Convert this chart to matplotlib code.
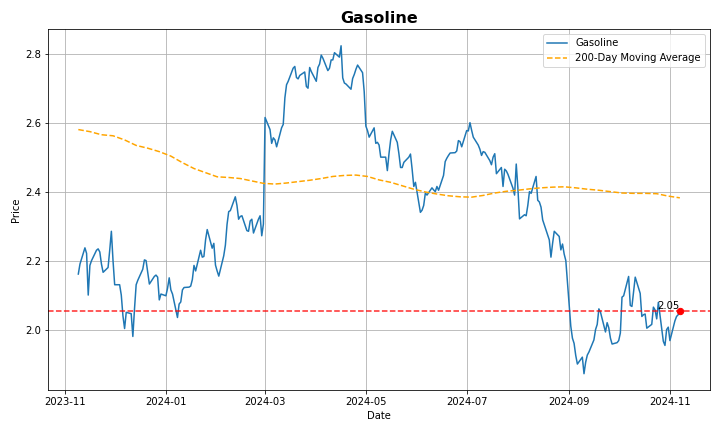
import numpy as np
import pandas as pd
import matplotlib
matplotlib.use("Agg")
import matplotlib.pyplot as plt

# daily gasoline settle prices (business days), one list per month
nov23 = [2.161, 2.19, 2.237, 2.221, 2.10, 2.186, 2.20, 2.23, 2.234, 2.225, 2.19, 2.166,
         2.18, 2.23, 2.285, 2.20]
dec23 = [2.13, 2.13, 2.10, 2.04, 2.003, 2.05, 2.046, 1.98, 2.06, 2.13, 2.143,
         2.175, 2.202, 2.20, 2.165, 2.132, 2.154, 2.158, 2.152, 2.086, 2.103]
jan24 = [2.098, 2.12, 2.15, 2.115, 2.103, 2.035, 2.074, 2.08, 2.115, 2.122,
         2.123, 2.126, 2.145, 2.186, 2.17, 2.23, 2.21, 2.212, 2.26, 2.29, 2.236, 2.25, 2.187]
feb24 = [2.17, 2.155, 2.214, 2.245, 2.305, 2.342, 2.345, 2.385, 2.36, 2.32, 2.328, 2.33,
         2.287, 2.285, 2.315, 2.32, 2.28, 2.32, 2.33, 2.272, 2.306]
mar24 = [2.615, 2.58, 2.54, 2.556, 2.55, 2.53, 2.585, 2.595, 2.672, 2.71, 2.72,
         2.758, 2.763, 2.731, 2.727, 2.737, 2.747, 2.705, 2.70, 2.76, 2.748]
apr24 = [2.72, 2.76, 2.77, 2.796, 2.787, 2.751, 2.758, 2.782, 2.782, 2.803,
         2.79, 2.823, 2.73, 2.715, 2.712, 2.697, 2.728, 2.74, 2.755, 2.767, 2.745, 2.69]
may24 = [2.59, 2.577, 2.558, 2.585, 2.54, 2.543, 2.535, 2.50, 2.50, 2.461, 2.51, 2.55, 2.575,
         2.543, 2.51, 2.47, 2.47, 2.485, 2.50, 2.509, 2.465, 2.415, 2.427]
jun24 = [2.34, 2.346, 2.36, 2.396, 2.39, 2.411, 2.405, 2.40, 2.415, 2.404,
         2.447, 2.487, 2.497, 2.505, 2.512, 2.513, 2.518, 2.548, 2.545, 2.53]
jul24 = [2.577, 2.576, 2.60, 2.578, 2.558, 2.535, 2.523, 2.505, 2.516, 2.514,
         2.49, 2.478, 2.50, 2.51, 2.452, 2.47, 2.415, 2.465, 2.46, 2.45, 2.41, 2.39, 2.48]
aug24 = [2.41, 2.321, 2.333, 2.33, 2.36, 2.40, 2.395, 2.444, 2.375, 2.37, 2.355, 2.318,
         2.275, 2.26, 2.21, 2.25, 2.285, 2.27, 2.231, 2.248, 2.219, 2.20]
sep24 = [2.01, 1.975, 1.96, 1.925, 1.90, 1.92, 1.872, 1.905, 1.926, 1.935,
         1.97, 2.0, 2.015, 2.06, 2.05, 1.993, 2.02, 2.005, 1.975, 1.958, 1.962]
oct24 = [1.968, 1.99, 2.094, 2.098, 2.154, 2.07, 2.067, 2.11, 2.152,
         2.105, 2.038, 2.043, 2.045, 2.004, 2.015, 2.065, 2.057, 2.031, 2.079,
         1.966, 1.954, 2.0, 2.007]
nov24 = [1.968, 2.025, 2.038, 2.043, 2.0548]

# 200-day moving average, sampled weekly (Thursdays)
ma_values = [2.58, 2.574, 2.565, 2.562, 2.55, 2.534, 2.526, 2.516, 2.503, 2.484,
             2.467, 2.455, 2.443, 2.441, 2.438, 2.431, 2.424, 2.422, 2.425, 2.429,
             2.433, 2.438, 2.444, 2.447, 2.448, 2.444, 2.434, 2.427, 2.417, 2.407,
             2.399, 2.393, 2.388, 2.385, 2.384, 2.389, 2.396, 2.401, 2.404, 2.408,
             2.411, 2.413, 2.414, 2.411, 2.407, 2.404, 2.40, 2.396, 2.395, 2.395,
             2.394, 2.387, 2.382]

prices = nov23 + dec23 + jan24 + feb24 + mar24 + apr24 + may24 + jun24 + jul24 + aug24 + sep24 + oct24 + nov24
dates = pd.bdate_range("2023-11-09", "2024-11-07")
ma_dates = pd.date_range("2023-11-09", "2024-11-07", freq="7D")

series = pd.Series(prices, index=dates)
ma = pd.Series(ma_values, index=ma_dates)


def plot_chart(series, ma):
    fig, ax = plt.subplots(figsize=(10, 6), dpi=72)
    fig.subplots_adjust(left=0.067, right=0.986, top=0.932, bottom=0.097)

    ax.plot(series.index, series.values, label="Gasoline")
    ax.plot(ma.index, ma.values, label="200-Day Moving Average", color="orange", linestyle="--")

    last_date = series.index[-1]
    last_price = series.iloc[-1]
    ax.axhline(last_price, color="r", linestyle="--", alpha=0.85)
    ax.scatter([last_date], [last_price], color="red", s=40, zorder=5)
    ax.text(last_date, last_price, f"{last_price:.2f}", ha="right", va="bottom", fontsize=10)

    ax.set_title("Gasoline", fontsize=16, fontweight="bold")
    ax.set_xlabel("Date")
    ax.set_ylabel("Price")
    ax.legend(loc="upper right")
    ax.grid(True)
    fig.savefig("out.png")


def main():
    assert len(prices) == len(dates)
    plot_chart(series, ma)


if __name__ == "__main__":
    main()
